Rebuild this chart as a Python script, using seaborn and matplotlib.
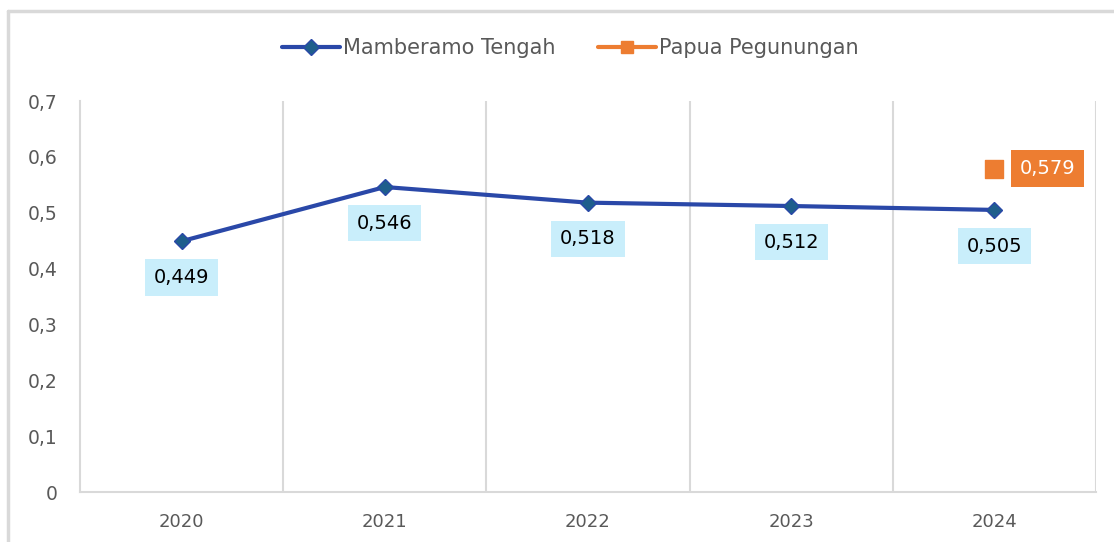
import numpy as np
import pandas as pd
import matplotlib.pyplot as plt
import seaborn as sns
from matplotlib.lines import Line2D

years = ["2020", "2021", "2022", "2023", "2024"]
mamberamo = [0.449, 0.546, 0.518, 0.512, 0.505]
papua = [np.nan, np.nan, np.nan, np.nan, 0.579]

df = pd.DataFrame({"Tahun": years, "Mamberamo Tengah": mamberamo, "Papua Pegunungan": papua})
df["pos"] = range(len(years))

sns.set_style("white")
plt.rcParams["font.family"] = ["DejaVu Sans"]

blue = "#2A48A8"
diamond = "#1E5E8C"
orange = "#ED7D31"
grid = "#D9D9D9"
gray_text = "#595959"

fig = plt.figure(figsize=(11.14, 5.42), dpi=100)
ax = fig.add_axes([80 / 1114, 50 / 542, 1016 / 1114, 391 / 542])

sns.lineplot(data=df, x="pos", y="Mamberamo Tengah", ax=ax, color=blue, linewidth=3,
             marker="D", markersize=8, markerfacecolor=diamond, markeredgecolor=blue,
             markeredgewidth=1, zorder=3)
sns.scatterplot(data=df, x="pos", y="Papua Pegunungan", ax=ax, color=orange, marker="s",
                s=150, edgecolor=orange, zorder=3)

# data labels
for i, v in enumerate(mamberamo):
    ax.annotate(f"{v:.3f}".replace(".", ","), (i, v), xytext=(0, -26), textcoords="offset points",
                ha="center", va="center", fontsize=14, color="black",
                bbox=dict(boxstyle="square,pad=0.45", fc="#C9EEFB", ec="none"))
for i, v in enumerate(papua):
    if not np.isnan(v):
        ax.annotate(f"{v:.3f}".replace(".", ","), (i, v), xytext=(38, 0), textcoords="offset points",
                    ha="center", va="center", fontsize=14, color="white",
                    bbox=dict(boxstyle="square,pad=0.45", fc=orange, ec="none"))

ax.set_xlim(-0.5, len(years) - 0.5)
ax.set_ylim(0, 0.7)
ax.set_xticks(range(len(years)))
ax.set_xticklabels(years, fontsize=13, color=gray_text)
yt = np.arange(0, 0.71, 0.1)
ax.set_yticks(yt)
ax.set_yticklabels(["0"] + [f"{t:.1f}".replace(".", ",") for t in yt[1:]], fontsize=13.5, color=gray_text)
ax.tick_params(axis="both", length=0)
ax.tick_params(axis="x", pad=15)
ax.tick_params(axis="y", pad=16)
ax.set_xlabel("")
ax.set_ylabel("")

# vertical gridlines at category boundaries
for b in np.arange(0.5, len(years) - 0.5 + 0.01, 1.0):
    ax.axvline(b, color=grid, lw=1.5, zorder=0)
for side in ["top", "right"]:
    ax.spines[side].set_visible(False)
for side in ["left", "bottom"]:
    ax.spines[side].set_color(grid)
    ax.spines[side].set_linewidth(1.5)

handles = [
    Line2D([], [], color=blue, lw=3, marker="D", markersize=8, markerfacecolor=diamond, markeredgecolor=blue),
    Line2D([], [], color=orange, lw=3, marker="s", markersize=8, markerfacecolor=orange, markeredgecolor=orange),
]
fig.legend(handles, ["Mamberamo Tengah", "Papua Pegunungan"], loc="center", bbox_to_anchor=(0.512, 0.911),
           ncol=2, frameon=False, fontsize=15, labelcolor=gray_text, handlelength=2.8,
           handletextpad=0.15, columnspacing=2.0)

# chart frame
fig.add_artist(Line2D([8 / 1114, 8 / 1114], [0, 1 - 11 / 542], color=grid, lw=2.5))
fig.add_artist(Line2D([8 / 1114, 1], [1 - 11 / 542, 1 - 11 / 542], color=grid, lw=2.5))

fig.savefig("out.png", dpi=100)
